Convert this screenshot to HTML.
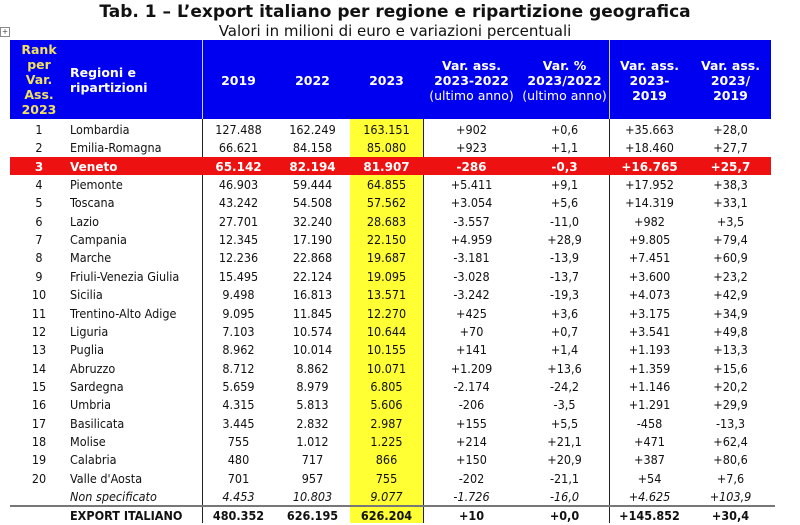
<!DOCTYPE html>
<html><head><meta charset="utf-8">
<style>
html,body{margin:0;padding:0;background:#fff;}
body{width:800px;height:523px;position:relative;overflow:hidden;font-family:"DejaVu Sans Condensed","DejaVu Sans","Liberation Sans",sans-serif;color:#111;}
.t{position:absolute;white-space:nowrap;}
#title{left:0;width:790px;text-align:center;top:2px;font:bold 17px "DejaVu Sans",sans-serif;}
#sub{left:0;width:790px;text-align:center;top:22px;font:15px "DejaVu Sans",sans-serif;}
#head{position:absolute;left:10px;top:40px;width:761px;height:79px;background:#0000f0;}
.h{position:absolute;color:#fff;font:bold 12.5px "DejaVu Sans",sans-serif;text-align:center;line-height:15px;}
.h .n{font-weight:normal;}
.hy{color:#f0e060;}
.cell{position:absolute;font-size:12.5px;line-height:18px;height:18px;text-align:center;}
.vl{position:absolute;width:1px;background:#222;}
</style></head><body>
<div id="title" class="t">Tab. 1 – L’export italiano per regione e ripartizione geografica</div>
<div id="sub" class="t">Valori in milioni di euro e variazioni percentuali</div>
<div class="t" style="left:0;top:27px;width:8px;height:8px;border:1px solid #888;font-size:8px;line-height:8px;text-align:center;color:#444">+</div>
<div id="head">
 <div class="h hy" style="left:0;width:58px;top:2px;line-height:15px">Rank<br>per<br>Var.<br>Ass.<br>2023</div>
 <div class="h" style="left:60px;width:120px;top:25px;text-align:left">Regioni e<br>ripartizioni</div>
 <div class="h" style="left:192px;width:73px;top:33px">2019</div>
 <div class="h" style="left:265px;width:75px;top:33px">2022</div>
 <div class="h" style="left:340px;width:73px;top:33px">2023</div>
 <div class="h" style="left:413px;width:97px;top:18px">Var. ass.<br>2023-2022<br><span class="n">(ultimo anno)</span></div>
 <div class="h" style="left:510px;width:89px;top:18px">Var. %<br>2023/2022<br><span class="n">(ultimo anno)</span></div>
 <div class="h" style="left:599px;width:81px;top:18px">Var. ass.<br>2023-<br>2019</div>
 <div class="h" style="left:680px;width:81px;top:18px">Var. ass.<br>2023/<br>2019</div>
</div>
<div class="vl" style="left:202px;top:40px;height:79px;background:#ccd"></div>
<div class="vl" style="left:609px;top:40px;height:79px;background:#ccd"></div>
<div style="position:absolute;left:350px;top:119px;width:73px;height:404px;background:#ffff33"></div>
<div class="vl" style="left:202px;top:119px;height:404px"></div>
<div class="vl" style="left:423px;top:119px;height:404px"></div>
<div class="vl" style="left:609px;top:119px;height:404px"></div>
<div style="position:absolute;left:10px;top:157px;width:761px;height:18px;background:#ee1111"></div>
<div style="position:absolute;left:10px;top:505px;width:765px;height:2px;background:#777"></div>
<div id="rows"></div>
<script>
const ranks=["1","2","3","4","5","6","7","8","9","10","11","12","13","14","15","16","17","18","19","20","",""];
const regions=["Lombardia","Emilia-Romagna","Veneto","Piemonte","Toscana","Lazio","Campania","Marche","Friuli-Venezia Giulia","Sicilia","Trentino-Alto Adige","Liguria","Puglia","Abruzzo","Sardegna","Umbria","Basilicata","Molise","Calabria","Valle d'Aosta","Non specificato","EXPORT ITALIANO"];
const v2019=["127.488","66.621","65.142","46.903","43.242","27.701","12.345","12.236","15.495","9.498","9.095","7.103","8.962","8.712","5.659","4.315","3.445","755","480","701","4.453","480.352"];
const v2022=["162.249","84.158","82.194","59.444","54.508","32.240","17.190","22.868","22.124","16.813","11.845","10.574","10.014","8.862","8.979","5.813","2.832","1.012","717","957","10.803","626.195"];
const v2023=["163.151","85.080","81.907","64.855","57.562","28.683","22.150","19.687","19.095","13.571","12.270","10.644","10.155","10.071","6.805","5.606","2.987","1.225","866","755","9.077","626.204"];
const varAss=["+902","+923","-286","+5.411","+3.054","-3.557","+4.959","-3.181","-3.028","-3.242","+425","+70","+141","+1.209","-2.174","-206","+155","+214","+150","-202","-1.726","+10"];
const varPct=["+0,6","+1,1","-0,3","+9,1","+5,6","-11,0","+28,9","-13,9","-13,7","-19,3","+3,6","+0,7","+1,4","+13,6","-24,2","-3,5","+5,5","+21,1","+20,9","-21,1","-16,0","+0,0"];
const varAss19=["+35.663","+18.460","+16.765","+17.952","+14.319","+982","+9.805","+7.451","+3.600","+4.073","+3.175","+3.541","+1.193","+1.359","+1.146","+1.291","-458","+471","+387","+54","+4.625","+145.852"];
const varPct19=["+28,0","+27,7","+25,7","+38,3","+33,1","+3,5","+79,4","+60,9","+23,2","+42,9","+34,9","+49,8","+13,3","+15,6","+20,2","+29,9","-13,3","+62,4","+80,6","+7,6","+103,9","+30,4"];
const cols=[[ranks,10,58,"center"],[regions,70,132,"left"],[v2019,202,73,"center"],[v2022,275,75,"center"],[v2023,350,73,"center"],[varAss,423,97,"center"],[varPct,520,89,"center"],[varAss19,609,81,"center"],[varPct19,690,81,"center"]];
const names=["rank","region","value-2019","value-2022","value-2023","var-ass-2023-2022","var-pct-2023-2022","var-ass-2023-2019","var-pct-2023-2019"];
const rowsEl=document.getElementById('rows');
function rowY(i){ if(i<20) return 121+i*18.35; if(i==20) return 488; return 507; }
for(let i=0;i<regions.length;i++){
  cols.forEach((c,ci)=>{
    const d=document.createElement('div');
    d.className='cell';
    
    
    d.textContent=c[0][i];
    d.style.left=c[1]+'px';d.style.width=c[2]+'px';d.style.textAlign=c[3];
    d.style.top=rowY(i)+'px';
    if(i==2){d.style.color='#fff';d.style.fontWeight='bold';d.style.fontFamily='"DejaVu Sans",sans-serif';d.style.fontSize='12px';}
    if(i==20){d.style.fontStyle='italic';}
    if(i==21){d.style.fontWeight='bold';d.style.top='507px';}
    rowsEl.appendChild(d);
  });
}
</script>
</body></html>
